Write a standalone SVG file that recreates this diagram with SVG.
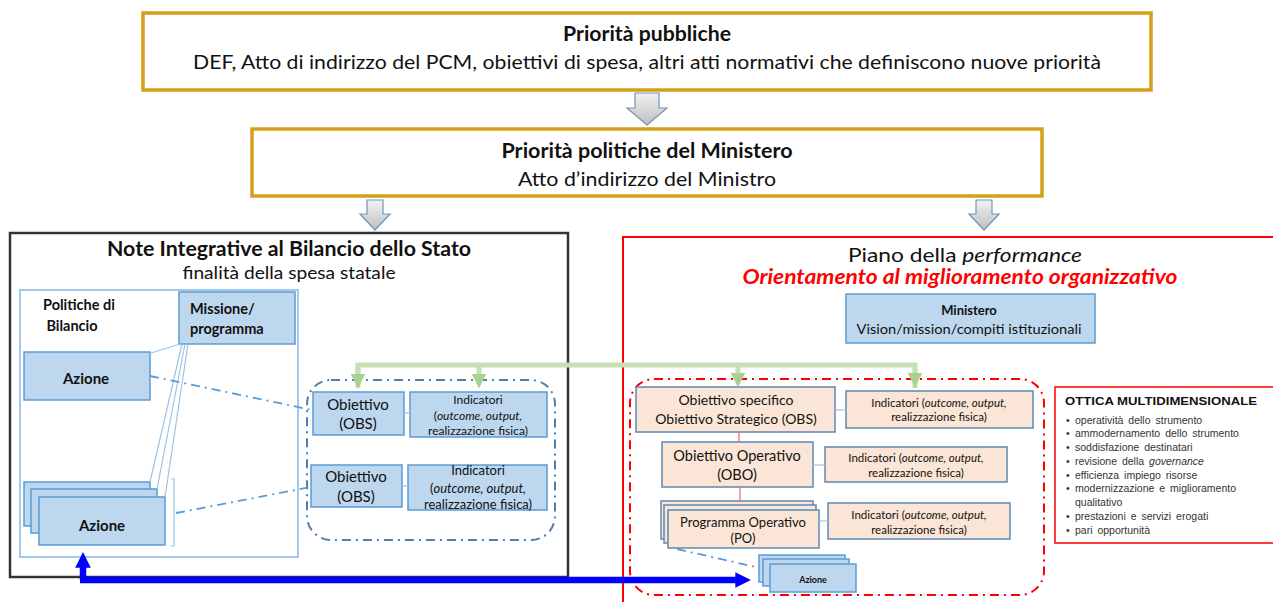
<svg xmlns="http://www.w3.org/2000/svg" width="1273" height="602" viewBox="0 0 1273 602">
<defs>
<linearGradient id="grayArrow" x1="0" y1="0" x2="0" y2="1">
<stop offset="0" stop-color="#F2F2F2"/>
<stop offset="1" stop-color="#BFBFBF"/>
</linearGradient>
<marker id="greenHead" viewBox="0 0 10 10" refX="5" refY="5" markerWidth="3" markerHeight="3" orient="auto" markerUnits="strokeWidth">
<path d="M0,0 L10,5 L0,10 z" fill="#A9D18E"/>
</marker>
<marker id="blueHead" viewBox="0 0 10 10" refX="3" refY="5" markerWidth="2.4" markerHeight="2.6" orient="auto" markerUnits="strokeWidth">
<path d="M0,0 L10,5 L0,10 z" fill="#0000FF"/>
</marker>
</defs>
<style>
.gold{fill:#fff;stroke:#D4A017;stroke-width:3.5}
.garrow{fill:url(#grayArrow);stroke:#6F95BD;stroke-width:1.2}
.blue{fill:#BDD7EE;stroke:#5B9BD5;stroke-width:1.5}
.peach{fill:#FBE5D6;stroke:#5E88B3;stroke-width:1.5}
.t{font-family:Lato,"Liberation Sans",sans-serif;fill:#111;text-anchor:middle}
.b{font-weight:bold}
.i{font-style:italic}
.a{font-family:"Liberation Sans",Arial,sans-serif;fill:#333}
.thin{stroke:#9DC3E6;stroke-width:1.2;fill:none}
.dashb{fill:none;stroke:#4F7FAE;stroke-width:2;stroke-dasharray:9 5 2 5}
.dashr{fill:none;stroke:#FF0000;stroke-width:2;stroke-dasharray:9 5 2 5}
.dashl{fill:none;stroke:#5B9BD5;stroke-width:1.8;stroke-dasharray:9 5 2 5}
.green{fill:none;stroke:#C5E0B4;stroke-width:5}
</style>

<g id="priorita-pubbliche">
<rect class="gold" x="143" y="13" width="1008" height="77"/>
<text class="t b" x="647" y="41" font-size="20" textLength="168" lengthAdjust="spacingAndGlyphs">Priorità pubbliche</text>
<text class="t" x="647" y="69" font-size="20" textLength="908" lengthAdjust="spacingAndGlyphs">DEF, Atto di indirizzo del PCM, obiettivi di spesa, altri atti normativi che definiscono nuove priorità</text>
</g>

<g id="priorita-politiche">
<rect class="gold" x="252" y="129" width="790" height="67"/>
<text class="t b" x="647" y="158" font-size="20" textLength="291" lengthAdjust="spacingAndGlyphs">Priorità politiche del Ministero</text>
<text class="t" x="647" y="186" font-size="20" textLength="258" lengthAdjust="spacingAndGlyphs">Atto d’indirizzo del Ministro</text>
</g>

<g id="note-integrative">
<rect x="10" y="233" width="558" height="344" fill="#fff" stroke="#333" stroke-width="2.5"/>
<text class="t b" x="289" y="256" font-size="20" textLength="364" lengthAdjust="spacingAndGlyphs">Note Integrative al Bilancio dello Stato</text>
<text class="t" x="289" y="279" font-size="17" textLength="213" lengthAdjust="spacingAndGlyphs">finalità della spesa statale</text>
</g>

<g id="piano-performance">
<rect x="623" y="237" width="700" height="400" fill="#fff" stroke="#FF0000" stroke-width="2"/>
<text class="t" x="965" y="262" font-size="20" textLength="234" lengthAdjust="spacingAndGlyphs">Piano della <tspan class="i">performance</tspan></text>
<text class="t b i" x="960" y="284" font-size="20" style="fill:#FF0000" textLength="435" lengthAdjust="spacingAndGlyphs">Orientamento al miglioramento organizzativo</text>
</g>

<g id="politiche-bilancio">
<rect x="20" y="290" width="278" height="267" fill="none" stroke="#9DC3E6" stroke-width="1.8"/>
<text class="t b" x="79" y="310" font-size="14.5">Politiche di</text>
<text class="t b" x="72" y="331" font-size="14.5">Bilancio</text>
</g>

<g id="missione-programma">
<rect class="blue" x="179" y="292" width="116" height="52"/>
<text class="t b" x="190" y="314" font-size="14.5" style="text-anchor:start">Missione/</text>
<text class="t b" x="190" y="334" font-size="14.5" style="text-anchor:start">programma</text>
</g>

<g id="azione-1">
<rect class="blue" x="24" y="352" width="126" height="48"/>
<text class="t b" x="86" y="384" font-size="15">Azione</text>
</g>

<g id="azione-stack">
<rect class="blue" x="24" y="482" width="126" height="44"/>
<rect class="blue" x="31" y="489" width="126" height="44"/>
<rect class="blue" x="39" y="497" width="126" height="48"/>
<text class="t b" x="102" y="531" font-size="15">Azione</text>
<path d="M171,479 H174 V546 H171" class="thin"/>
</g>

<g id="dash-group-left">
<rect class="dashb" x="307" y="380" width="248" height="160" rx="24"/>
</g>

<g id="obiettivo-obs-1">
<rect class="blue" x="313" y="392" width="91" height="43"/>
<text class="t" x="358" y="410" font-size="15">Obiettivo</text>
<text class="t" x="358" y="429" font-size="15">(OBS)</text>
</g>
<g id="indicatori-1">
<rect class="blue" x="410" y="392" width="137" height="45"/>
<text class="t" x="478" y="404" font-size="12">Indicatori</text>
<text class="t" x="478" y="420" font-size="12">(<tspan class="i">outcome, output,</tspan></text>
<text class="t" x="478" y="435" font-size="12">realizzazione fisica)</text>
</g>

<g id="obiettivo-obs-2">
<rect class="blue" x="311" y="465" width="91" height="42"/>
<text class="t" x="356" y="482" font-size="15">Obiettivo</text>
<text class="t" x="356" y="502" font-size="15">(OBS)</text>
</g>
<g id="indicatori-2">
<rect class="blue" x="408" y="465" width="139" height="45"/>
<text class="t" x="478" y="475" font-size="13">Indicatori</text>
<text class="t" x="478" y="493" font-size="13">(<tspan class="i">outcome, output,</tspan></text>
<text class="t" x="478" y="509" font-size="13">realizzazione fisica)</text>
</g>

<g id="ministero">
<rect class="blue" x="846" y="294" width="249" height="49"/>
<text class="t b" x="969" y="315" font-size="13">Ministero</text>
<text class="t" x="969" y="334" font-size="13" textLength="225" lengthAdjust="spacingAndGlyphs">Vision/mission/compiti istituzionali</text>
</g>

<g id="dash-group-right">
<rect class="dashr" x="630" y="379" width="414" height="216" rx="24"/>
</g>

<g id="obiettivo-specifico">
<rect class="peach" x="636" y="387" width="199" height="45"/>
<text class="t" x="736" y="405" font-size="14">Obiettivo specifico</text>
<text class="t" x="736" y="424" font-size="14">Obiettivo Strategico (OBS)</text>
</g>
<g id="indicatori-obs">
<rect class="peach" x="846" y="391" width="187" height="37"/>
<text class="t" x="939" y="407" font-size="11.5">Indicatori (<tspan class="i">outcome, output,</tspan></text>
<text class="t" x="939" y="421" font-size="11.5">realizzazione fisica)</text>
</g>

<g id="obiettivo-operativo">
<rect class="peach" x="662" y="442" width="151" height="45"/>
<text class="t" x="737" y="461" font-size="14.5">Obiettivo Operativo</text>
<text class="t" x="737" y="480" font-size="14.5">(OBO)</text>
</g>
<g id="indicatori-obo">
<rect class="peach" x="825" y="447" width="182" height="35"/>
<text class="t" x="916" y="462" font-size="11.5">Indicatori (<tspan class="i">outcome, output,</tspan></text>
<text class="t" x="916" y="477" font-size="11.5">realizzazione fisica)</text>
</g>

<g id="programma-operativo">
<rect class="peach" x="661" y="501" width="152" height="38"/>
<rect class="peach" x="664" y="505" width="152" height="38"/>
<rect class="peach" x="668" y="510" width="151" height="38"/>
<text class="t" x="743" y="527" font-size="13">Programma Operativo</text>
<text class="t" x="743" y="543" font-size="13">(PO)</text>
</g>
<g id="indicatori-po">
<rect class="peach" x="828" y="503" width="182" height="36"/>
<text class="t" x="919" y="519" font-size="11.5">Indicatori (<tspan class="i">outcome, output,</tspan></text>
<text class="t" x="919" y="534" font-size="11.5">realizzazione fisica)</text>
</g>

<g id="azione-small">
<rect class="blue" x="759" y="555" width="86" height="27"/>
<rect class="blue" x="763" y="559" width="86" height="27"/>
<rect class="blue" x="770" y="564" width="86" height="28"/>
<text class="t b" x="813" y="583" font-size="9">Azione</text>
</g>

<g id="ottica-multidimensionale">
<rect x="1055" y="387" width="240" height="156" fill="#fff" stroke="#FF0000" stroke-width="1.5"/>
<text class="a b" x="1065" y="405" font-size="11.5" style="fill:#111" textLength="192" lengthAdjust="spacingAndGlyphs">OTTICA MULTIDIMENSIONALE</text>
<g class="a" font-size="10.5" word-spacing="2">
<text x="1066" y="424">•</text><text x="1075" y="424">operatività dello strumento</text>
<text x="1066" y="437">•</text><text x="1075" y="437">ammodernamento  dello strumento</text>
<text x="1066" y="451">•</text><text x="1075" y="451">soddisfazione destinatari</text>
<text x="1066" y="465">•</text><text x="1075" y="465">revisione della <tspan font-style="italic">governance</tspan></text>
<text x="1066" y="479">•</text><text x="1075" y="479">efficienza impiego risorse</text>
<text x="1066" y="492">•</text><text x="1075" y="492">modernizzazione e miglioramento</text>
<text x="1075" y="506">qualitativo</text>
<text x="1066" y="520">•</text><text x="1075" y="520">prestazioni e servizi erogati</text>
<text x="1066" y="534">•</text><text x="1075" y="534">pari opportunità</text>
</g>
</g>

<g id="connectors">
<path class="garrow" d="M635,93 h24 v15 h8 l-20,17 l-20,-17 h8 z"/>
<path class="garrow" d="M367,200 h16 v14 h7 l-15,16 l-15,-16 h7 z"/>
<path class="garrow" d="M976,200 h16 v14 h7 l-15,16 l-15,-16 h7 z"/>

<line class="thin" x1="151" y1="353" x2="180" y2="344"/>
<line class="thin" x1="182" y1="344" x2="150" y2="482"/>
<line class="thin" x1="185" y1="344" x2="157" y2="489"/>
<line class="thin" x1="188" y1="344" x2="165" y2="497"/>

<line class="dashl" x1="150" y1="376" x2="312" y2="410"/>
<line class="dashl" x1="176" y1="513" x2="311" y2="487"/>

<line class="thin" x1="404" y1="413" x2="410" y2="413"/>
<line class="thin" x1="402" y1="486" x2="408" y2="486"/>

<path class="green" d="M358,388 V365 H915 V388"/>
<line class="green" x1="358" y1="368" x2="358" y2="381" marker-end="url(#greenHead)"/>
<line class="green" x1="479" y1="365" x2="479" y2="381" marker-end="url(#greenHead)"/>
<line class="green" x1="738" y1="365" x2="738" y2="380" marker-end="url(#greenHead)"/>
<line class="green" x1="915" y1="368" x2="915" y2="380" marker-end="url(#greenHead)"/>

<line x1="739" y1="432" x2="739" y2="442" stroke="#FF6060" stroke-width="1.2"/>
<line x1="740" y1="487" x2="740" y2="501" stroke="#FF6060" stroke-width="1.2"/>
<line class="thin" x1="835" y1="410" x2="846" y2="410"/>
<line class="thin" x1="813" y1="465" x2="825" y2="465"/>
<line class="thin" x1="819" y1="521" x2="828" y2="521"/>

<line class="dashl" x1="677" y1="549" x2="760" y2="568"/>

<path d="M83,580 V563" fill="none" stroke="#0000FF" stroke-width="6.5" marker-end="url(#blueHead)"/>
<path d="M80,580 H740" fill="none" stroke="#0000FF" stroke-width="6.5" marker-end="url(#blueHead)"/>
</g>
</svg>
